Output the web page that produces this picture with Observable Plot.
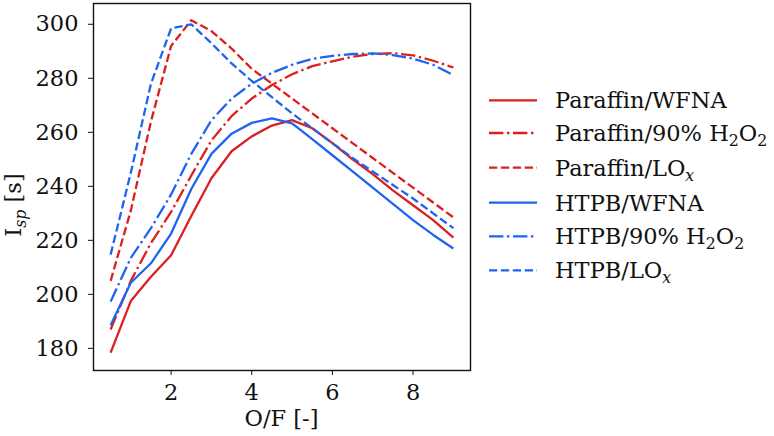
<!DOCTYPE html>
<html><head><meta charset="utf-8">
<script src="https://cdn.jsdelivr.net/npm/d3@7"></script>
<script src="https://cdn.jsdelivr.net/npm/@observablehq/plot@0.6"></script>
<style>
body{margin:0;background:#fff}
#chart{position:relative;width:774px;height:436px}
</style>
</head><body><div id="chart"></div>
<script>
// O/F ratio samples
const ofRatio = [0.5,1,1.5,2,2.5,3,3.5,4,4.5,5,5.5,6,6.5,7,7.5,8,8.5,9];
// Specific impulse [s]
const paraffinWFNA = [178.4,197.5,206.5,214.5,229,243,253,258.5,262.5,264.5,261.5,256,250,244.5,238.5,233,227.5,221];
const paraffinH2O2 = [187,205,219,230.5,244,257,266,272.5,277.5,281.5,284.5,286.3,288,289,289.3,288.5,286.5,284];
const paraffinLOx  = [205,231,264,292,301.5,297.5,291,283.5,278,272.5,267,261.5,256,250.5,245,239.5,234,228.5];
const htpbWFNA     = [188.6,204.3,211.5,222.5,239,252,259.5,263.5,265.2,263.3,257.5,251.5,245.5,239.5,233.5,227.5,222,217];
const htpbH2O2     = [197.3,213.5,224.5,237,252,264.5,272.5,278,282,285,287.2,288.3,289,289.2,288.6,287.3,285,281.2];
const htpbLOx      = [214.7,245,278,298.5,300,293,285.5,279,273,267,261.5,256,250.5,245.5,240.5,235.5,230,224.5];

const seriesNames = ["Paraffin/WFNA","Paraffin/90% H2O2","Paraffin/LOx","HTPB/WFNA","HTPB/90% H2O2","HTPB/LOx"];
const seriesValues = [paraffinWFNA, paraffinH2O2, paraffinLOx, htpbWFNA, htpbH2O2, htpbLOx];
const xTicks = [2,4,6,8];
const yTicks = [180,200,220,240,260,280,300];

const RED = "#dc1f1f", BLUE = "#1f63f2";
const SOLID = null, DASHDOT = "14.4,3.6,2.4,3.6", DASHED = "8.3,3.6";
const styles = [
  {color:RED, dash:SOLID},{color:RED, dash:DASHDOT},{color:RED, dash:DASHED},
  {color:BLUE, dash:SOLID},{color:BLUE, dash:DASHDOT},{color:BLUE, dash:DASHED}
];
// rich legend labels (sub = subscript, it = italic)
const legendParts = [
  [{t:"Paraffin/WFNA"}],
  [{t:"Paraffin/90% H"},{t:"2",sub:1},{t:"O"},{t:"2",sub:1}],
  [{t:"Paraffin/LO"},{t:"x",sub:1,it:1}],
  [{t:"HTPB/WFNA"}],
  [{t:"HTPB/90% H"},{t:"2",sub:1},{t:"O"},{t:"2",sub:1}],
  [{t:"HTPB/LO"},{t:"x",sub:1,it:1}]
];

const rows = seriesNames.flatMap((name, k) => ofRatio.map((x, i) => ({series:name, k, x, y:seriesValues[k][i]})));

const FONT = "DejaVu Serif";
const FS = 22.5;
const chart = Plot.plot({
  width:774, height:436,
  marginLeft:93, marginRight:304, marginTop:3, marginBottom:66,
  style:{fontFamily:FONT, fontSize:FS+"px", background:"white", color:"#111", overflow:"visible"},
  x:{domain:[0.075,9.425]},
  y:{domain:[171.8,307.7]},
  marks:[
    Plot.axisX({ticks:xTicks, tickSize:5, tickPadding:9, label:null, fontSize:FS, tickFormat:d=>String(d)}),
    Plot.axisY({ticks:yTicks, tickSize:5, tickPadding:10, label:null, fontSize:FS, tickFormat:d=>String(d)}),
    ...styles.map((s, k) => Plot.line(rows.filter(r => r.k === k), {
      x:"x", y:"y", stroke:s.color, strokeWidth:2.3, strokeDasharray:s.dash, strokeLinejoin:"round", strokeLinecap:"butt"
    })),
    Plot.frame({stroke:"#111", strokeWidth:1.4})
  ]
});
document.getElementById("chart").appendChild(chart);

const svg = d3.select(chart);
function rich(sel, parts, size){
  let shifted = false;
  parts.forEach(p => {
    const ts = sel.append("tspan").text(p.t);
    if (p.sub) {
      ts.attr("font-size", (size*0.7)+"px").attr("dy", shifted ? 0 : size*0.22);
      shifted = true;
    } else {
      if (shifted) ts.attr("dy", -size*0.22);
      shifted = false;
    }
    if (p.it) ts.attr("font-style","italic");
  });
}
// axis labels
svg.append("text").attr("x", 281.5).attr("y", 426).attr("text-anchor","middle")
  .attr("font-family",FONT).attr("font-size",FS+"px").attr("fill","#111").text("O/F [-]");
const yl = svg.append("text").attr("transform","translate(21,205) rotate(-90)").attr("text-anchor","middle")
  .attr("font-family",FONT).attr("font-size",FS+"px").attr("fill","#111");
rich(yl, [{t:"I"},{t:"sp",sub:1,it:1},{t:" [s]"}], FS);

// legend
const legBase = [108.3,141,175.7,210.7,244.3,278.3];
const lg = svg.append("g").attr("text-anchor","start");
styles.forEach((s, k) => {
  const yb = legBase[k];
  lg.append("line").attr("x1",489).attr("x2",537).attr("y1",yb-8).attr("y2",yb-8)
    .attr("stroke",s.color).attr("stroke-width",2.3).attr("stroke-dasharray",s.dash);
  const t = lg.append("text").attr("x",555).attr("y",yb).attr("text-anchor","start")
    .attr("font-family",FONT).attr("font-size",FS+"px").attr("fill","#111");
  rich(t, legendParts[k], FS);
});
</script>
</body></html>
